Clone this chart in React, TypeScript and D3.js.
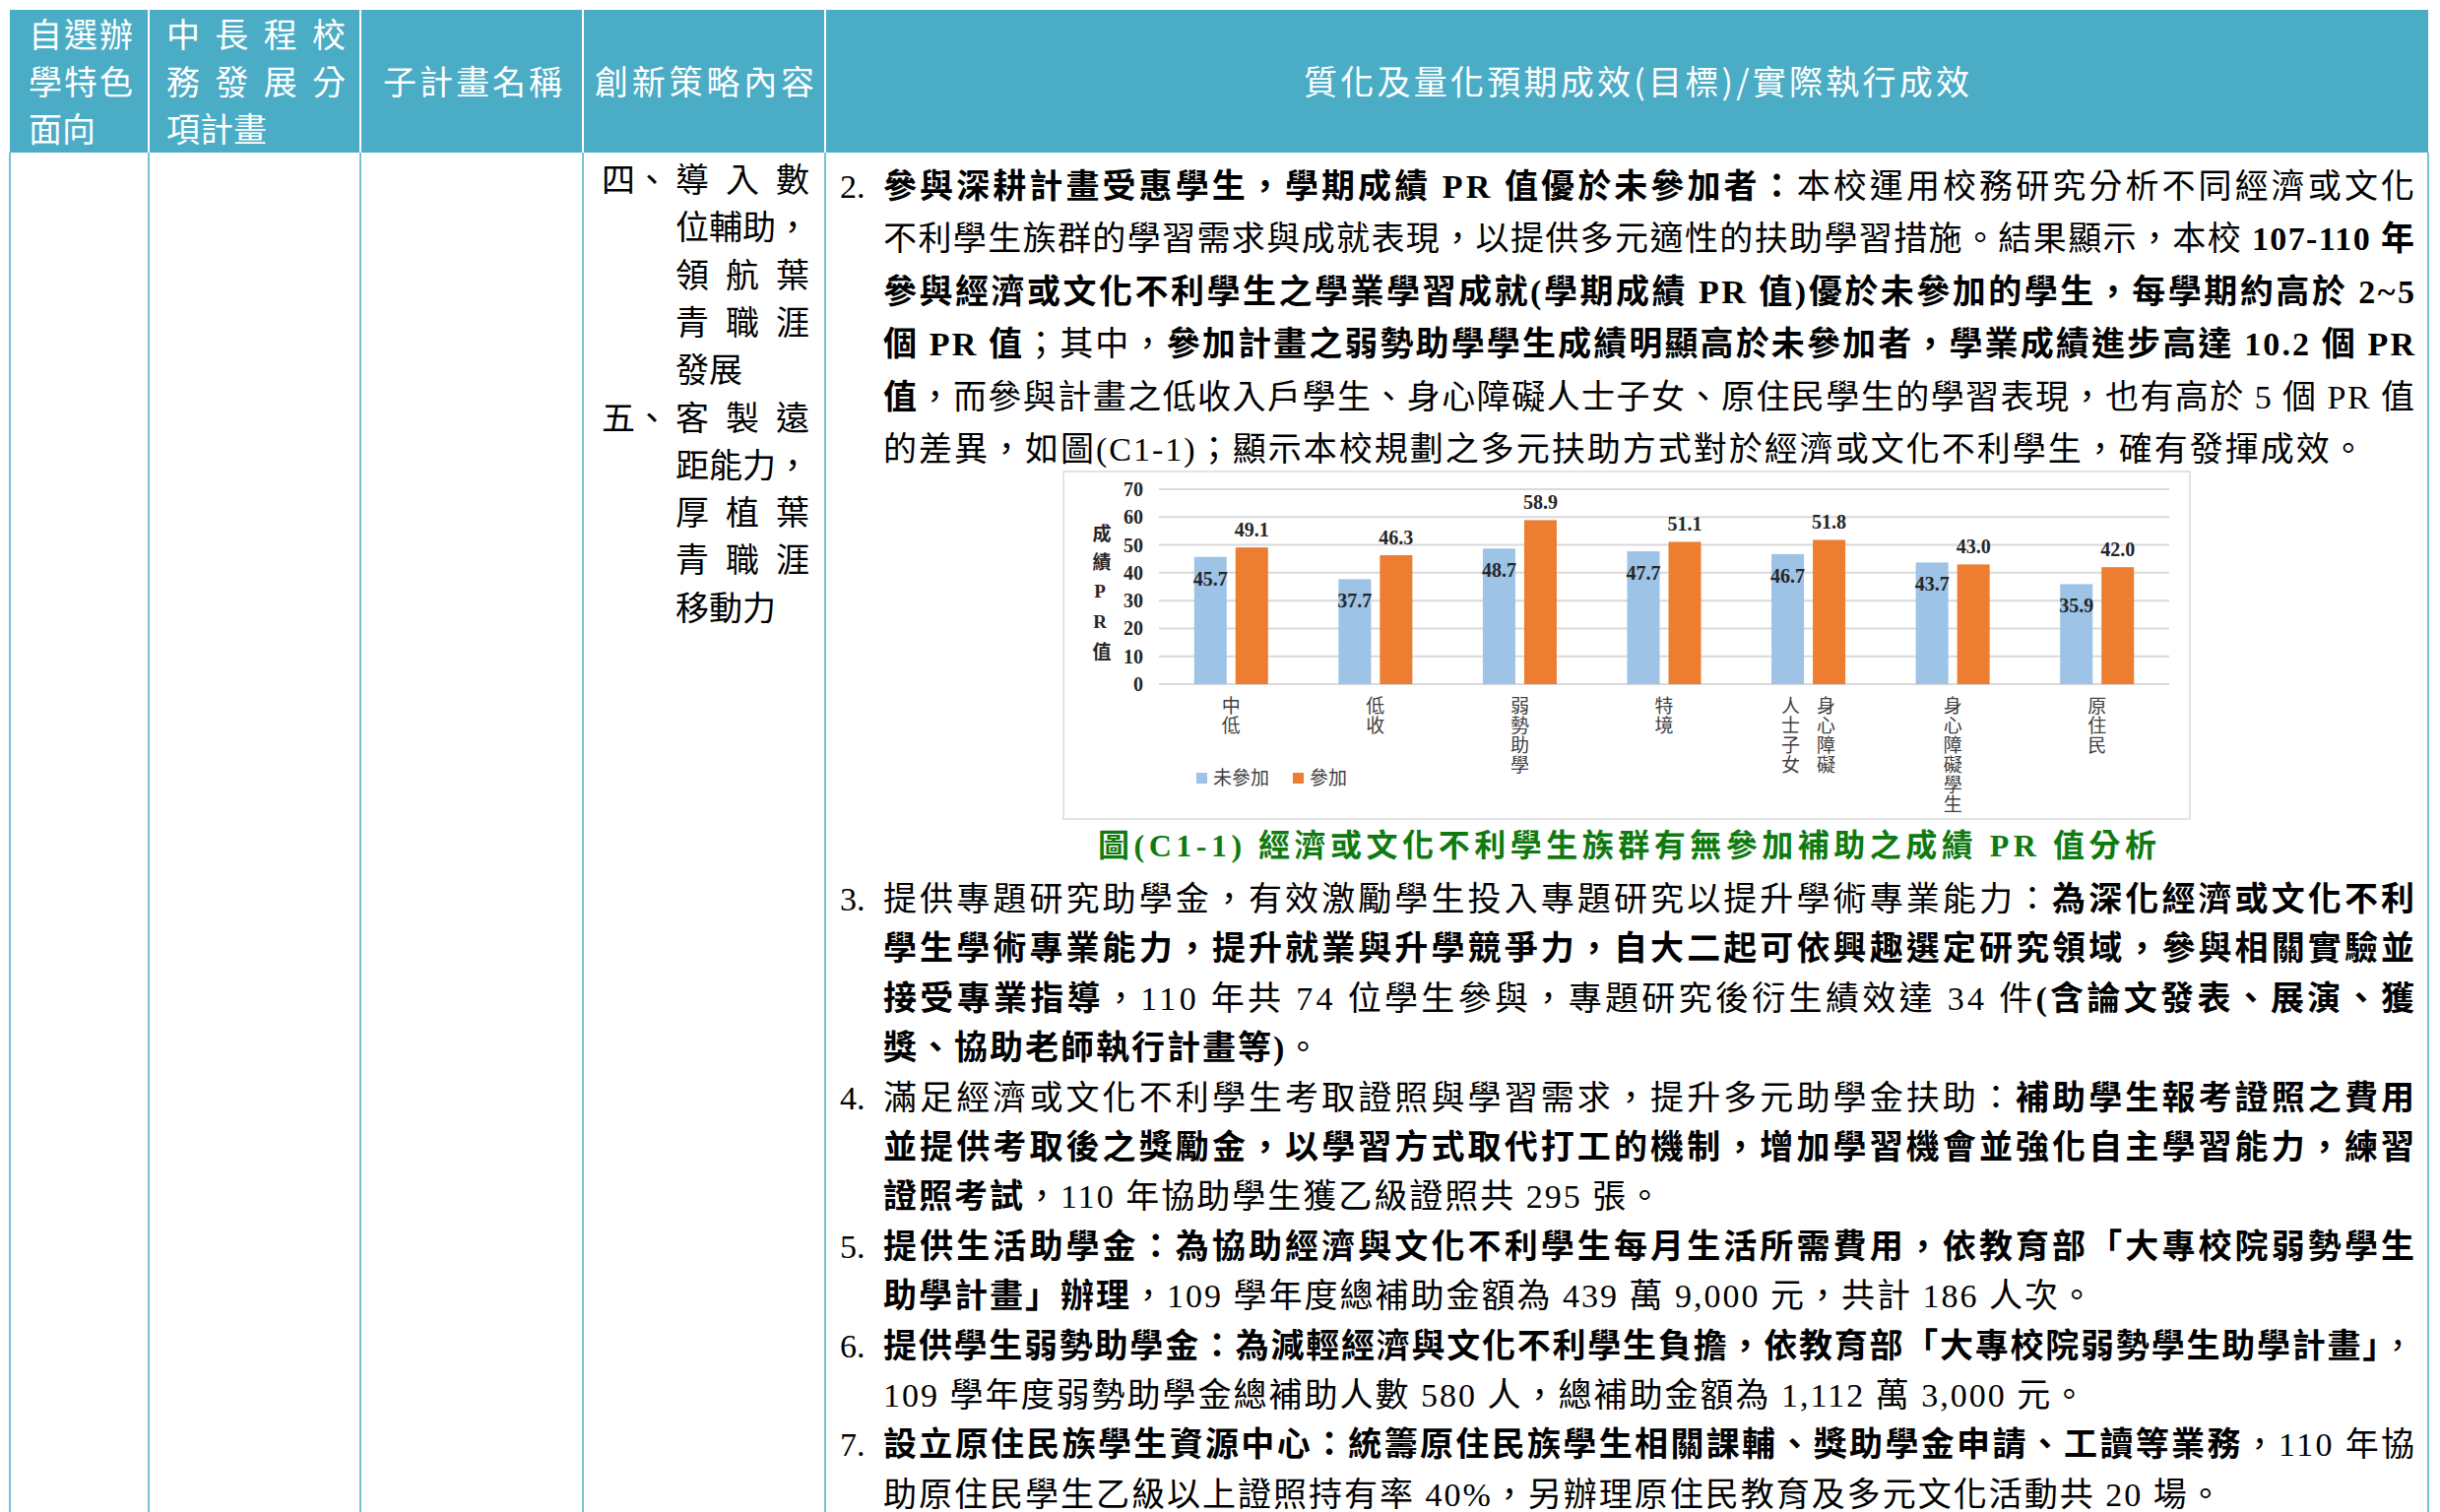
import React from "react";
import * as d3 from "d3";

// ---- chart data ----
const categories = ["中低", "低收", "弱勢助學", "特境", "身心障礙人士子女", "身心障礙學生", "原住民"];
const notJoined = [45.7, 37.7, 48.7, 47.7, 46.7, 43.7, 35.9];
const joined = [49.1, 46.3, 58.9, 51.1, 51.8, 43.0, 42.0];
const seriesNames = ["未參加", "參加"];
const seriesColors = ["#9DC3E6", "#ED7D31"];
const yTicks = [0, 10, 20, 30, 40, 50, 60, 70];
const yTitle = "成績PR值";
const caption = "圖(C1-1) 經濟或文化不利學生族群有無參加補助之成績 PR 值分析";

// ---- table text ----
const headerTitles = [
  "自選辦學特色面向",
  "中長程校務發展分項計畫",
  "子計畫名稱",
  "創新策略內容",
  "質化及量化預期成效(目標)/實際執行成效",
];

const strategyItems = [
  { mark: "四、", lines: ["導入數", "位輔助，", "領航葉", "青職涯", "發展"] },
  { mark: "五、", lines: ["客製遠", "距能力，", "厚植葉", "青職涯", "移動力"] },
];

// ** marks bold runs
const resultsTop = [
  {
    num: "2.",
    lines: [
      "**參與深耕計畫受惠學生，學期成績 PR 值優於未參加者：**本校運用校務研究分析不同經濟或文化",
      "不利學生族群的學習需求與成就表現，以提供多元適性的扶助學習措施。結果顯示，本校 **107-110 年**",
      "**參與經濟或文化不利學生之學業學習成就(學期成績 PR 值)優於未參加的學生，每學期約高於 2~5**",
      "**個 PR 值**；其中，**參加計畫之弱勢助學學生成績明顯高於未參加者，學業成績進步高達 10.2 個 PR**",
      "**值**，而參與計畫之低收入戶學生、身心障礙人士子女、原住民學生的學習表現，也有高於 5 個 PR 值",
      "的差異，如圖(C1-1)；顯示本校規劃之多元扶助方式對於經濟或文化不利學生，確有發揮成效。",
    ],
  },
];

const resultsBottom = [
  {
    num: "3.",
    lines: [
      "提供專題研究助學金，有效激勵學生投入專題研究以提升學術專業能力：**為深化經濟或文化不利**",
      "**學生學術專業能力，提升就業與升學競爭力，自大二起可依興趣選定研究領域，參與相關實驗並**",
      "**接受專業指導**，110 年共 74 位學生參與，專題研究後衍生績效達 34 件**(含論文發表、展演、獲**",
      "**獎、協助老師執行計畫等)**。",
    ],
  },
  {
    num: "4.",
    lines: [
      "滿足經濟或文化不利學生考取證照與學習需求，提升多元助學金扶助：**補助學生報考證照之費用**",
      "**並提供考取後之獎勵金，以學習方式取代打工的機制，增加學習機會並強化自主學習能力，練習**",
      "**證照考試**，110 年協助學生獲乙級證照共 295 張。",
    ],
  },
  {
    num: "5.",
    lines: [
      "**提供生活助學金：為協助經濟與文化不利學生每月生活所需費用，依教育部「大專校院弱勢學生**",
      "**助學計畫」辦理**，109 學年度總補助金額為 439 萬 9,000 元，共計 186 人次。",
    ],
  },
  {
    num: "6.",
    lines: [
      "**提供學生弱勢助學金：為減輕經濟與文化不利學生負擔，依教育部「大專校院弱勢學生助學計畫」**，",
      "109 學年度弱勢助學金總補助人數 580 人，總補助金額為 1,112 萬 3,000 元。",
    ],
  },
  {
    num: "7.",
    lines: [
      "**設立原住民族學生資源中心：統籌原住民族學生相關課輔、獎助學金申請、工讀等業務**，110 年協",
      "助原住民學生乙級以上證照持有率 40%，另辦理原住民教育及多元文化活動共 20 場。",
    ],
  },
];

const BODY_FONT = "'Liberation Serif', 'Noto Sans CJK TC', serif";
const SANS_FONT = "'Noto Sans CJK TC', 'Noto Sans', sans-serif";
const TEAL = "#4BACC6";

function segs(s: string) {
  return s
    .split("**")
    .map((t, i) => ({ t, b: i % 2 === 1 }))
    .filter((p) => p.t.length > 0);
}

function chunk(s: string, n: number) {
  const chars = Array.from(s);
  const out: string[] = [];
  for (let i = 0; i < chars.length; i += n) out.push(chars.slice(i, i + n).join(""));
  return out;
}

function Paragraphs({ paras, y0, step }: { paras: typeof resultsTop; y0: number; step: number }) {
  const textX = 897;
  const rightX = 2452;
  let row = 0;
  const out: React.ReactNode[] = [];
  paras.forEach((p, pi) => {
    p.lines.forEach((line, li) => {
      const base = y0 + row * step + 12;
      const last = li === p.lines.length - 1;
      if (li === 0) {
        out.push(
          <text key={`n${pi}`} x={853} y={base} fontSize={34} fontFamily={BODY_FONT}>
            {p.num}
          </text>
        );
      }
      out.push(
        <text
          key={`l${pi}-${li}`}
          x={textX}
          y={base}
          fontSize={34}
          fontFamily={BODY_FONT}
          style={{ whiteSpace: "pre" }}
          letterSpacing={last ? 2 : 0}
          {...(last ? {} : { textLength: rightX - textX, lengthAdjust: "spacing" })}
        >
          {segs(line).map((s, i) => (
            <tspan key={i} fontWeight={s.b ? 700 : 400}>
              {s.t}
            </tspan>
          ))}
        </text>
      );
      row++;
    });
  });
  return <g>{out}</g>;
}

// vertical (top-to-bottom) text as one element
function VText({ x, top, size, pitch, text, ...rest }: any) {
  return (
    <text
      x={x}
      y={top}
      fontSize={size}
      letterSpacing={pitch - size}
      style={{ writingMode: "vertical-rl", textOrientation: "upright" } as any}
      {...rest}
    >
      {text}
    </text>
  );
}

function BarChart() {
  const x0 = d3.scaleBand<string>().domain(categories).range([1177, 2203]);
  const x1 = d3
    .scaleBand<string>()
    .domain(seriesNames)
    .range([0, x0.bandwidth()])
    .paddingInner(0.214)
    .paddingOuter(0.852);
  const y = d3.scaleLinear().domain([0, 70]).range([695, 497]);
  const values = [notJoined, joined];

  const labelCols = (name: string) =>
    Array.from(name).length > 6 ? chunk(name, 4) : [name];

  return (
    <g>
      <rect x={1080} y={479} width={1144} height={353} fill="#fff" stroke="#e3e3e3" strokeWidth={2} />
      {yTicks.map((t) => (
        <g key={t}>
          <line x1={1177} x2={2203} y1={y(t)} y2={y(t)} stroke="#d9d9d9" strokeWidth={2} />
          <text
            x={1161}
            y={y(t) + 7}
            textAnchor="end"
            fontSize={20}
            fontWeight={700}
            fontFamily={BODY_FONT}
            fill="#262626"
          >
            {t}
          </text>
        </g>
      ))}
      <VText
        x={1117}
        top={532}
        size={19}
        pitch={29}
        text={yTitle}
        fontWeight={700}
        fontFamily={BODY_FONT}
        fill="#262626"
      />
      {categories.map((cat, ci) => (
        <g key={cat}>
          {seriesNames.map((s, si) => {
            const v = values[si][ci];
            const bx = (x0(cat) as number) + (x1(s) as number);
            const bw = x1.bandwidth();
            return (
              <g key={s}>
                <rect x={bx} y={y(v)} width={bw} height={y(0) - y(v)} fill={seriesColors[si]} />
                <text
                  x={bx + bw / 2}
                  y={si === 0 ? y(v) + 29 : y(v) - 11}
                  textAnchor="middle"
                  fontSize={20}
                  fontWeight={700}
                  fontFamily={BODY_FONT}
                  fill="#262626"
                >
                  {v.toFixed(1)}
                </text>
              </g>
            );
          })}
          {labelCols(cat).map((col, k, arr) => {
            const cx =
              (x0(cat) as number) + x0.bandwidth() / 2 + (arr.length > 1 ? (k === 0 ? 18 : -18) : 0);
            return (
              <VText
                key={k}
                x={cx}
                top={707}
                size={19}
                pitch={20}
                text={col}
                fontFamily={SANS_FONT}
                fill="#404040"
              />
            );
          })}
        </g>
      ))}
      {seriesNames.map((s, i) => {
        const lx = [1215, 1313][i];
        return (
          <g key={s}>
            <rect x={lx} y={785} width={11} height={11} fill={seriesColors[i]} />
            <text x={lx + 17} y={797} fontSize={19} fontFamily={SANS_FONT} fill="#404040">
              {s}
            </text>
          </g>
        );
      })}
      <text
        x={1115}
        y={870}
        fontSize={32}
        fontWeight={700}
        fontFamily={BODY_FONT}
        fill="#0f7a0f"
        textLength={1075}
        lengthAdjust="spacing"
        style={{ whiteSpace: "pre" }}
      >
        {caption}
      </text>
    </g>
  );
}

export default function App() {
  const colX = [10, 151, 366, 592, 838, 2466];
  const headBottom = 155;

  // header text layout
  const h1 = chunk(headerTitles[0], 3);
  const h2 = chunk(headerTitles[1], 4);
  const hy = [35, 83, 131];

  const headText = (key: string, s: string, x: number, cy: number, len?: number) => (
    <text
      key={key}
      x={x}
      y={cy + 13}
      fontSize={34}
      fill="#fff"
      fontFamily={SANS_FONT}
      {...(len ? { textLength: len, lengthAdjust: "spacing" } : {})}
    >
      {s}
    </text>
  );

  const stratLines: React.ReactNode[] = [];
  let r = 0;
  strategyItems.forEach((it, ii) => {
    it.lines.forEach((ln, li) => {
      const base = 182 + r * 48.3 + 13;
      const last = li === it.lines.length - 1;
      if (li === 0)
        stratLines.push(
          <text key={`m${ii}`} x={611} y={base} fontSize={34} fontFamily={BODY_FONT}>
            {it.mark}
          </text>
        );
      stratLines.push(
        <text
          key={`s${ii}-${li}`}
          x={686}
          y={base}
          fontSize={34}
          fontFamily={BODY_FONT}
          {...(last ? {} : { textLength: 136, lengthAdjust: "spacing" })}
        >
          {ln}
        </text>
      );
      r++;
    });
  });

  return (
    <svg
      width={2478}
      height={1536}
      style={{ position: "absolute", left: 0, top: 0, background: "#fff" }}
    >
      <rect x={0} y={0} width={2478} height={1536} fill="#fff" />
      {/* header */}
      <rect x={colX[0]} y={10} width={colX[5] - colX[0]} height={headBottom - 10} fill={TEAL} />
      {colX.slice(1, 5).map((x) => (
        <line key={x} x1={x} x2={x} y1={10} y2={headBottom} stroke="#fff" strokeWidth={2} />
      ))}
      {h1.map((s, i) => headText(`h1${i}`, s, 29, hy[i], Array.from(s).length === 3 ? 106 : undefined))}
      {h2.map((s, i) => headText(`h2${i}`, s, 169, hy[i], Array.from(s).length === 4 ? 182 : undefined))}
      {headText("h3", headerTitles[2], 389, 83, 182)}
      {headText("h4", headerTitles[3], 604, 83, 223)}
      {headText("h5", headerTitles[4], 1324, 83, 676)}

      {/* body grid */}
      {colX.map((x) => (
        <line key={x} x1={x} x2={x} y1={headBottom} y2={1536} stroke={TEAL} strokeWidth={1.5} />
      ))}

      {stratLines}
      <Paragraphs paras={resultsTop} y0={189} step={53.4} />
      <BarChart />
      <Paragraphs paras={resultsBottom} y0={913} step={50.4} />
    </svg>
  );
}
